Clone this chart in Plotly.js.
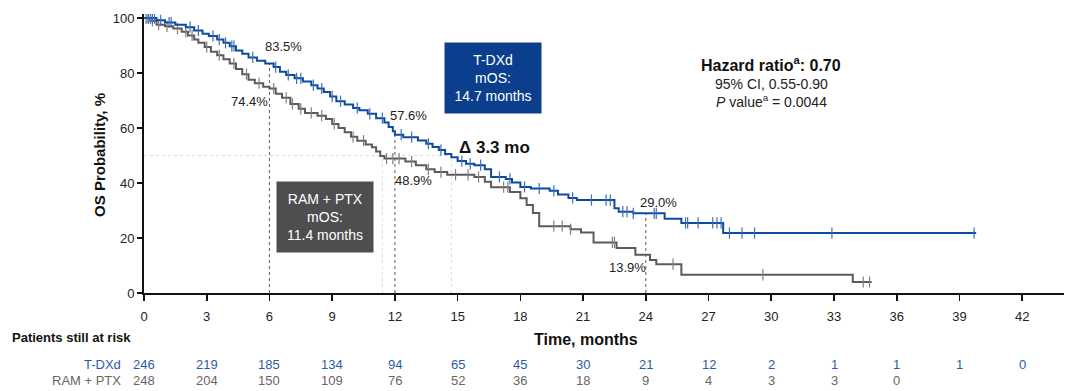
<!DOCTYPE html>
<html>
<head>
<meta charset="utf-8">
<script src="https://cdn.plot.ly/plotly-3.0.1.min.js"></script>
<style>html,body{margin:0;padding:0;background:#fff;}#chart{width:1080px;height:391px;}</style>
</head>
<body>
<div id="chart"></div>
<script>
// ---- Data ----
const tdxdTimes = [0,0.6,1.0,1.5,2.0,2.4,2.8,3.1,3.5,3.8,4.1,4.4,4.7,5.0,5.4,5.8,6.2,6.5,6.8,7.2,7.6,8.0,8.3,8.6,8.9,9.2,9.6,10.0,10.3,10.7,11.1,11.5,11.7,11.9,12.0,12.4,13.1,13.5,13.8,14.1,14.4,14.7,15.0,15.4,15.8,16.3,16.6,17.3,17.6,18.0,18.5,19.4,19.8,20.3,20.7,22.5,22.7,23.4,24.9,25.7,27.7,39.8];
const tdxdSurv  = [100,99.2,98.4,97.6,96.7,95.5,94.3,93.5,92.2,91.0,89.8,88.2,87.0,85.7,84.5,83.5,82.2,80.5,79.3,78.1,76.9,75.6,74.4,73.1,71.5,69.8,68.6,67.3,66.5,65.2,63.6,62.0,60.4,58.8,57.6,56.7,55.5,54.3,53.1,52.0,50.6,49.4,48.0,47.0,46.5,45.0,42.2,41.5,40.2,38.6,38.0,37.2,35.8,34.6,33.8,30.8,29.6,29.0,27.0,25.5,21.8,21.8];
const tdxdCensor = [0.1,0.2,0.3,0.4,0.5,0.8,1.2,1.3,2.2,2.6,3.3,3.6,3.9,4.2,4.3,5.2,6.3,6.9,7.3,7.5,8.1,8.5,9.0,9.4,10.2,10.8,11.4,12.3,12.8,13.6,14.2,15.2,15.6,16.1,17.0,17.5,18.2,18.9,19.6,20.5,21.4,22.1,22.3,22.9,23.1,23.4,24.4,24.5,25.9,26.0,26.5,27.2,27.4,27.6,28.0,28.6,29.2,32.9,39.7];

const rptxTimes = [0,0.3,0.6,1.0,1.4,1.8,2.1,2.4,2.6,2.9,3.2,3.5,3.8,4.1,4.4,4.7,5.0,5.3,5.7,6.0,6.3,6.6,7.0,7.4,7.7,8.3,8.7,9.0,9.3,9.6,9.9,10.2,10.6,10.9,11.1,11.3,11.5,12.5,13.0,13.5,13.9,14.5,15.8,16.3,16.6,17.5,18.0,18.3,18.6,18.9,20.4,20.9,21.5,22.6,23.5,24.2,24.5,25.7,33.9,34.8];
const rptxSurv  = [100,99.0,97.6,97.0,96.2,95.0,93.7,92.2,91.0,89.5,87.8,86.5,85.0,83.5,81.5,79.6,77.6,76.3,75.0,74.4,72.5,71.0,68.8,67.0,65.5,64.5,63.3,61.5,60.0,58.5,56.8,55.4,54.0,53.0,51.5,49.8,48.9,47.8,46.5,45.0,44.0,43.0,42.2,40.5,38.5,36.7,34.5,32.0,29.1,24.3,23.2,22.0,18.4,16.4,13.9,12.0,10.5,6.6,4.0,4.0];
const rptxCensor = [0.2,0.4,0.7,1.1,1.6,2.0,2.3,3.0,3.6,4.3,4.9,5.5,6.2,6.8,7.1,7.5,8.0,8.5,9.1,10.0,10.5,11.6,11.9,12.2,12.8,13.6,14.2,14.9,15.5,16.0,17.2,17.4,19.6,20.0,20.4,22.4,22.5,25.3,29.6,34.4,34.7];

const riskTimes = [0,3,6,9,12,15,18,21,24,27,30,33,36,39,42];
const riskTDXd  = [246,219,185,134,94,65,45,30,21,12,2,1,1,1,0];
const riskRPTX  = [248,204,150,109,76,52,36,18,9,4,3,3,0];

const xTicks = [0,3,6,9,12,15,18,21,24,27,30,33,36,39,42];
const yTicks = [0,20,40,60,80,100];

const landmarks = [
  {t:6,  tdxd:'83.5%', rptx:'74.4%', tv:83.5},
  {t:12, tdxd:'57.6%', rptx:'48.9%', tv:57.6},
  {t:24, tdxd:'29.0%', rptx:'13.9%', tv:29.0}
];
const medianTDXd = 14.7, medianRPTX = 11.4;

// ---- Helpers ----
function survAt(times, surv, t){
  let v = surv[0];
  for (let i=0;i<times.length;i++){ if (times[i] <= t) v = surv[i]; else break; }
  return v;
}

const blue = '#0e4a9e', gray = '#5b5b5b';
const blueTick = '#3d6fb6', grayTick = '#808080';
const fontFam = 'Arial, "Liberation Sans", sans-serif';

const traces = [
  {x: rptxTimes, y: rptxSurv, mode:'lines', line:{shape:'hv', color:gray, width:2}, hoverinfo:'skip', name:'RAM + PTX'},
  {x: rptxCensor, y: rptxCensor.map(t=>survAt(rptxTimes,rptxSurv,t)), mode:'markers',
   marker:{symbol:'line-ns-open', size:8, color:grayTick, line:{width:1.2, color:grayTick}}, hoverinfo:'skip'},
  {x: tdxdTimes, y: tdxdSurv, mode:'lines', line:{shape:'hv', color:blue, width:2}, hoverinfo:'skip', name:'T-DXd'},
  {x: tdxdCensor, y: tdxdCensor.map(t=>survAt(tdxdTimes,tdxdSurv,t)), mode:'markers',
   marker:{symbol:'line-ns-open', size:8, color:blueTick, line:{width:1.2, color:blueTick}}, hoverinfo:'skip'}
];

const shapes = [];
landmarks.forEach(l=>{
  shapes.push({type:'line', xref:'x', yref:'y', x0:l.t, x1:l.t, y0:0, y1:l.tv, line:{color:'#333', width:0.8, dash:'dot'}, layer:'below'});
});
shapes.push({type:'line', xref:'x', yref:'y', x0:0, x1:medianTDXd, y0:50, y1:50, line:{color:'#cfcfcf', width:0.8, dash:'dot'}, layer:'below'});
shapes.push({type:'line', xref:'x', yref:'y', x0:medianRPTX, x1:medianRPTX, y0:0, y1:50, line:{color:'#cfcfcf', width:0.8, dash:'dot'}, layer:'below'});
shapes.push({type:'line', xref:'x', yref:'y', x0:medianTDXd, x1:medianTDXd, y0:0, y1:50, line:{color:'#cfcfcf', width:0.8, dash:'dot'}, layer:'below'});

const ann = [];
const pctPos = [
  {x:6.65, y:89.5, t:landmarks[0].tdxd}, {x:5.05, y:69.8, t:landmarks[0].rptx},
  {x:12.63, y:64.4, t:landmarks[1].tdxd}, {x:12.87, y:41.1, t:landmarks[1].rptx},
  {x:24.6, y:33.1, t:landmarks[2].tdxd}, {x:23.1, y:9.1, t:landmarks[2].rptx}
];
pctPos.forEach(p=>ann.push({x:p.x, y:p.y, xref:'x', yref:'y', xanchor:'center', yanchor:'middle', text:p.t, showarrow:false, font:{size:13, color:'#222', family:fontFam}}));

ann.push({x:16.75, y:53.1, xref:'x', yref:'y', xanchor:'center', yanchor:'middle', text:'<b>Δ 3.3 mo</b>', showarrow:false, font:{size:17, color:'#111', family:fontFam}});

ann.push({x:16.7, y:78.2, xref:'x', yref:'y', xanchor:'center', yanchor:'middle', text:'T-DXd<br>mOS:<br>'+medianTDXd+' months', showarrow:false,
  bgcolor:'#0b3f8e', width:96, height:70, font:{size:14, color:'#fff', family:fontFam}, align:'center', valign:'middle', borderpad:0});
ann.push({x:8.66, y:27.8, xref:'x', yref:'y', xanchor:'center', yanchor:'middle', text:'RAM + PTX<br>mOS:<br>'+medianRPTX+' months', showarrow:false,
  bgcolor:'#4e4e50', width:96, height:70, font:{size:14, color:'#fff', family:fontFam}, align:'center', valign:'middle', borderpad:0});

ann.push({x:30.0, y:83.3, xref:'x', yref:'y', xanchor:'center', yanchor:'middle', text:'<b>Hazard ratio<sup>a</sup>: 0.70</b>', showarrow:false, font:{size:16, color:'#111', family:fontFam}});
ann.push({x:30.0, y:76.0, xref:'x', yref:'y', xanchor:'center', yanchor:'middle', text:'95% CI, 0.55-0.90', showarrow:false, font:{size:14, color:'#222', family:fontFam}});
ann.push({x:30.0, y:69.8, xref:'x', yref:'y', xanchor:'center', yanchor:'middle', text:'<i>P</i> value<sup>a</sup> = 0.0044', showarrow:false, font:{size:14, color:'#222', family:fontFam}});

// axis titles
ann.push({x:-0.0478, y:0.495, xref:'paper', yref:'paper', xanchor:'center', yanchor:'middle', text:'<b>OS Probability, %</b>', textangle:-90, showarrow:false, font:{size:15, color:'#111', family:fontFam}});
ann.push({x:0.4804, y:-0.168, xref:'paper', yref:'paper', xanchor:'center', yanchor:'middle', text:'<b>Time, months</b>', showarrow:false, font:{size:16, color:'#111', family:fontFam}});

// risk table
ann.push({x:-0.1457, y:-0.161, xref:'paper', yref:'paper', xanchor:'left', yanchor:'middle', text:'<b>Patients still at risk</b>', showarrow:false, font:{size:13, color:'#111', family:fontFam}});
ann.push({x:-0.0228, y:-0.2545, xref:'paper', yref:'paper', xanchor:'right', yanchor:'middle', text:'T-DXd', showarrow:false, font:{size:13, color:'#2a5caa', family:fontFam}});
ann.push({x:-0.0228, y:-0.3154, xref:'paper', yref:'paper', xanchor:'right', yanchor:'middle', text:'RAM + PTX', showarrow:false, font:{size:13, color:'#666', family:fontFam}});
riskTDXd.forEach((v,i)=>ann.push({x:riskTimes[i], y:-0.2545, xref:'x', yref:'paper', xanchor:'center', yanchor:'middle', text:String(v), showarrow:false, font:{size:13, color:'#2a5caa', family:fontFam}}));
riskRPTX.forEach((v,i)=>ann.push({x:riskTimes[i], y:-0.3154, xref:'x', yref:'paper', xanchor:'center', yanchor:'middle', text:String(v), showarrow:false, font:{size:13, color:'#666', family:fontFam}}));

const layout = {
  width:1080, height:391,
  margin:{l:144, r:16, t:14, b:98},
  paper_bgcolor:'#fff', plot_bgcolor:'#fff',
  showlegend:false,
  font:{family:fontFam, size:13, color:'#222'},
  xaxis:{range:[0,44], tickvals:xTicks, ticktext:xTicks.map(String), showgrid:false, zeroline:false,
    showline:true, linecolor:'#111', linewidth:2, ticks:'outside', ticklen:6, tickwidth:1.6, tickcolor:'#111',
    ticklabelstandoff:4, tickfont:{size:13, color:'#222'}, fixedrange:true},
  yaxis:{range:[0,101.5], tickvals:yTicks, ticktext:yTicks.map(String), showgrid:false, zeroline:false,
    showline:true, linecolor:'#111', linewidth:2, ticks:'outside', ticklen:5, tickwidth:1.6, tickcolor:'#111',
    tickfont:{size:13, color:'#222'}, fixedrange:true},
  shapes:shapes,
  annotations:ann
};

Plotly.newPlot('chart', traces, layout, {displayModeBar:false, staticPlot:true});
</script>
</body>
</html>
